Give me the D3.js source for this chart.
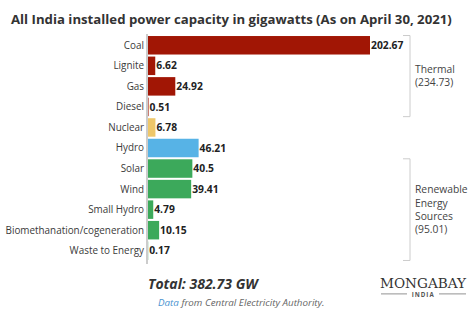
<!DOCTYPE html>
<html><head><meta charset="utf-8">
<script src="https://cdn.jsdelivr.net/npm/d3@7/dist/d3.min.js"></script>
<style>body{margin:0;background:#fff}svg{display:block}</style>
</head><body>
<svg id="c" width="474" height="321"></svg>
<script>
const categories = ["Coal","Lignite","Gas","Diesel","Nuclear","Hydro","Solar","Wind","Small Hydro","Biomethanation/cogeneration","Waste to Energy"];
const values = [202.67,6.62,24.92,0.51,6.78,46.21,40.5,39.41,4.79,10.15,0.17];
const valueLabels = ["202.67","6.62","24.92","0.51","6.78","46.21","40.5","39.41","4.79","10.15","0.17"];
const groups = ["thermal","thermal","thermal","thermal","nuclear","hydro","res","res","res","res","res"];
const groupColors = {thermal:"#a11605", nuclear:"#eec76a", hydro:"#57b3e6", res:"#3ca95b"};
const brackets = [
  {from:"Coal", to:"Diesel", lines:["Thermal","(234.73)"]},
  {from:"Solar", to:"Waste to Energy", lines:["Renewable","Energy","Sources","(95.01)"]}
];
const title = "All India installed power capacity in gigawatts (As on April 30, 2021)";
const totalText = "Total: 382.73 GW";

const svg = d3.select("#c");
const F = "'Open Sans', sans-serif";
const x0 = 148;
const x = d3.scaleLinear().domain([0, 202.67]).range([x0, 370]);
const y = d3.scaleBand().domain(categories).range([35, 261]).paddingInner(0.1).paddingOuter(0.05);

svg.append("text").attr("x", 11).attr("y", 24).attr("font-family", F).attr("font-weight", 700)
  .attr("font-size", 13.2).attr("fill", "#333").text(title);

svg.selectAll("rect.bar").data(categories).join("rect").attr("class","bar")
  .attr("x", x0).attr("y", d => y(d)).attr("height", y.bandwidth())
  .attr("width", (d,i) => x(values[i]) - x0)
  .attr("fill", (d,i) => groupColors[groups[i]]);

// axis line
svg.append("line").attr("x1", 147).attr("x2", 147).attr("y1", 34).attr("y2", 264)
  .attr("stroke", "#999").attr("stroke-width", 1);

svg.selectAll("text.cat").data(categories).join("text").attr("class","cat")
  .attr("x", 144).attr("y", d => y(d) + y.bandwidth()/2).attr("dy", "0.35em")
  .attr("text-anchor", "end").attr("font-family", F).attr("font-size", 9.9).attr("fill", "#3a3a3a").text(d => d);

svg.selectAll("text.val").data(categories).join("text").attr("class","val")
  .attr("x", (d,i) => x(values[i]) + 1).attr("y", d => y(d) + y.bandwidth()/2).attr("dy", "0.35em")
  .attr("font-family", F).attr("font-weight", 700).attr("font-size", 10.3).attr("fill", "#222")
  .text((d,i) => valueLabels[i]);

brackets.forEach(b => {
  const y1 = y(b.from) - 0.5, y2 = y(b.to) + y.bandwidth() + 0.5;
  const bx = 410;
  svg.append("path").attr("d", `M${bx-7},${y1}H${bx}V${y2}H${bx-7}`)
    .attr("fill", "none").attr("stroke", "#ccc").attr("stroke-width", 1);
  const mid = (y1 + y2) / 2, lh = 13.3;
  const start = mid - (b.lines.length - 1) * lh / 2;
  b.lines.forEach((l, i) => {
    svg.append("text").attr("x", 415).attr("y", start + i * lh).attr("dy", "0.35em")
      .attr("font-family", F).attr("font-size", 10.3).attr("fill", "#444").text(l);
  });
});

svg.append("text").attr("x", 148).attr("y", 289).attr("font-family", F).attr("font-weight", 700)
  .attr("font-style", "italic").attr("font-size", 14).attr("fill", "#333").text(totalText);

const src = svg.append("text").attr("x", 158).attr("y", 306).attr("font-family", F)
  .attr("font-style", "italic").attr("font-size", 9.8).attr("fill", "#666");
src.append("tspan").attr("fill", "#4a93cf").text("Data");
src.append("tspan").text(" from Central Electricity Authority.");

svg.append("text").attr("x", 380).attr("y", 287.5)
  .attr("font-family", "'DejaVu Serif', 'Liberation Serif', serif").attr("font-size", 12.5)
  .attr("fill", "#333").attr("textLength", 86).attr("lengthAdjust", "spacingAndGlyphs").text("MONGABAY");
svg.append("text").attr("x", 423.2).attr("y", 297.2).attr("text-anchor", "middle")
  .attr("font-family", F).attr("font-weight", 700).attr("font-size", 6.2).attr("letter-spacing", 1)
  .attr("fill", "#555").text("INDIA");
svg.append("line").attr("x1", 381).attr("x2", 407).attr("y1", 293.9).attr("y2", 293.9).attr("stroke", "#777").attr("stroke-width", 0.8);
svg.append("line").attr("x1", 439).attr("x2", 466).attr("y1", 293.9).attr("y2", 293.9).attr("stroke", "#777").attr("stroke-width", 0.8);
</script>
</body></html>
